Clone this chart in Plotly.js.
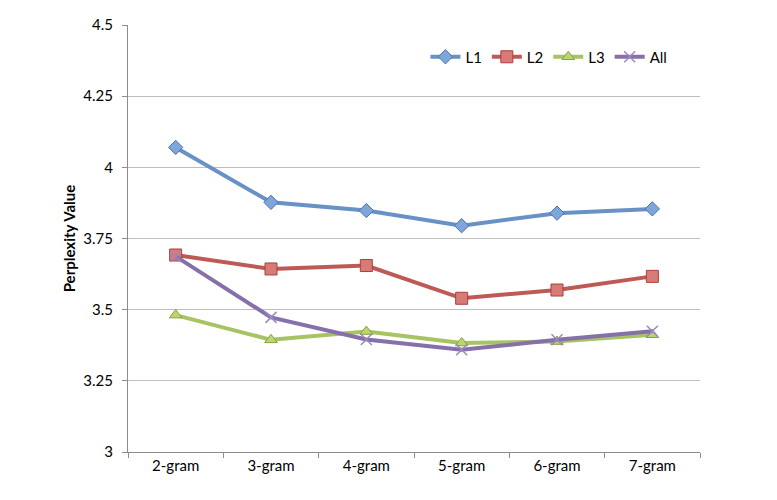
<!DOCTYPE html>
<html>
<head>
<meta charset="utf-8">
<script src="https://cdn.plot.ly/plotly-3.0.1.min.js"></script>
<style>html,body{margin:0;padding:0;background:#fff;}#chart{width:777px;height:500px;}</style>
</head>
<body>
<div id="chart"></div>
<script>
const categories = ["2-gram","3-gram","4-gram","5-gram","6-gram","7-gram"];
const seriesNames = ["L1","L2","L3","All"];
const L1 = [4.07, 3.877, 3.848, 3.795, 3.839, 3.854];
const L2 = [3.692, 3.643, 3.655, 3.54, 3.569, 3.617];
const L3 = [3.481, 3.394, 3.423, 3.383, 3.388, 3.412];
const All = [3.687, 3.473, 3.395, 3.359, 3.394, 3.424];
const yTicks = [3, 3.25, 3.5, 3.75, 4, 4.25, 4.5];
const yTickText = ["3","3.25","3.5","3.75","4","4.25","4.5"];

const values = [L1, L2, L3, All];
const lineColors = ["#6891C6", "#BD5A56", "#A7C463", "#8570A9"];
const markerFill = ["#7FA6DA", "#D97A76", "#BCD56E", "#9B88C0"];
const markerLine = ["#4A73A8", "#A8403D", "#86A23F", "#7A64A8"];
const symbols = ["diamond", "square", "triangle-up", "x-thin-open"];
const sizes = [11, 12, 11, 11];

const traces = values.map((v, i) => ({
  type: "scatter",
  mode: "lines+markers",
  name: seriesNames[i],
  x: categories,
  y: v,
  line: {color: lineColors[i], width: 4},
  marker: {
    symbol: symbols[i],
    size: sizes[i],
    color: i === 3 ? "#9B88C0" : markerFill[i],
    line: {color: i === 3 ? "#A898CC" : markerLine[i], width: i === 3 ? 1.5 : 1}
  }
}));

const font = "Lato, 'Open Sans', sans-serif";
const layout = {
  width: 777, height: 500,
  margin: {l: 128, r: 77, t: 25, b: 48, pad: 0},
  paper_bgcolor: "#fff", plot_bgcolor: "#fff",
  font: {family: font, size: 15, color: "#000"},
  showlegend: true,
  legend: {
    orientation: "h", x: 0.52, y: 0.925, xanchor: "left", yanchor: "middle",
    itemwidth: 30, font: {family: font, size: 15, color: "#000"},
    bgcolor: "rgba(0,0,0,0)", traceorder: "normal"
  },
  xaxis: {
    type: "category",
    showline: true, linecolor: "#8C8C8C", linewidth: 1,
    ticks: "outside", ticklen: 5, tickcolor: "#8C8C8C",
    tickson: "boundaries",
    showgrid: false, zeroline: false,
    tickfont: {family: font, size: 15, color: "#000"},
    range: [-0.5, 5.5]
  },
  yaxis: {
    range: [3, 4.5],
    tickvals: yTicks, ticktext: yTickText,
    showline: true, linecolor: "#8C8C8C", linewidth: 1,
    ticks: "outside", ticklen: 5, tickcolor: "#8C8C8C",
    showgrid: true, gridcolor: "#BEBEBE", gridwidth: 1,
    zeroline: false,
    tickfont: {family: font, size: 15, color: "#000"},
    ticklabelstandoff: 6,
    title: {text: "<b>Perplexity Value</b>", font: {family: font, size: 15, color: "#000"}, standoff: 4}
  }
};

Plotly.newPlot("chart", traces, layout, {displayModeBar: false, staticPlot: true});
</script>
</body>
</html>
